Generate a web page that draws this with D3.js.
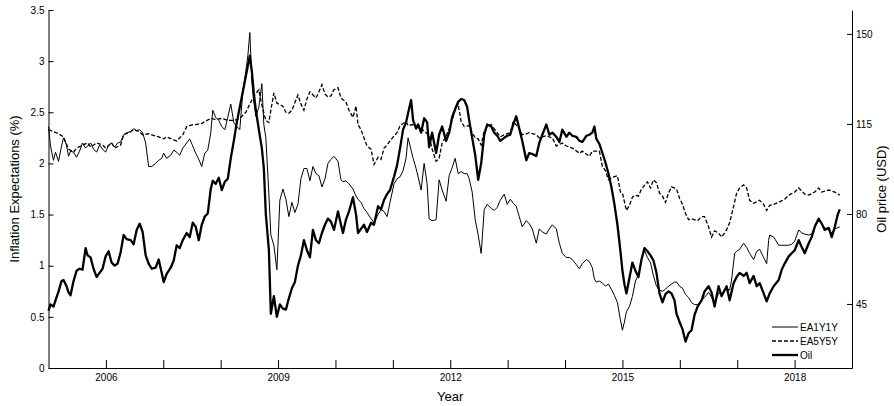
<!doctype html>
<html lang="en">
<head>
	<meta charset="UTF-8">
	<title>Inflation expectations and oil price</title>
	<style>
		body { margin: 0; background: #fff; }
		svg { display: block; font-family: "Liberation Sans", Arial, sans-serif; }
		.axis text { font-size: 10px; fill: #000; }
		.axis path, .axis line { stroke: #000; }
		.title { font-size: 13px; fill: #000; }
		.legend text { font-size: 10px; fill: #000; }
	</style>
</head>
<body>
	<script src="https://cdn.jsdelivr.net/npm/d3@7/dist/d3.min.js"></script>
	<script>
		// [decimal year, %]
		var ea1y1y = [[2005.000,2.36],[2005.035,2.17],[2005.087,2.03],[2005.122,2.11],[2005.175,2.02],[2005.227,2.17],[2005.262,2.25],[2005.314,2.18],[2005.349,2.07],[2005.384,2.12],[2005.436,2.11],[2005.489,2.06],[2005.541,2.12],[2005.593,2.20],[2005.646,2.15],[2005.681,2.17],[2005.733,2.20],[2005.785,2.14],[2005.838,2.11],[2005.890,2.18],[2005.942,2.14],[2005.995,2.11],[2006.047,2.18],[2006.099,2.20],[2006.152,2.16],[2006.204,2.20],[2006.257,2.21],[2006.309,2.28],[2006.361,2.30],[2006.431,2.31],[2006.483,2.34],[2006.536,2.32],[2006.588,2.33],[2006.640,2.30],[2006.693,2.20],[2006.745,1.97],[2006.798,1.97],[2006.867,2.00],[2006.920,2.03],[2006.972,2.05],[2007.007,2.10],[2007.059,2.05],[2007.129,2.08],[2007.182,2.13],[2007.234,2.11],[2007.286,2.08],[2007.339,2.15],[2007.408,2.20],[2007.461,2.24],[2007.513,2.17],[2007.565,2.10],[2007.618,2.04],[2007.670,1.97],[2007.723,2.10],[2007.775,2.13],[2007.827,2.30],[2007.862,2.52],[2007.914,2.45],[2007.967,2.42],[2008.019,2.36],[2008.072,2.33],[2008.124,2.45],[2008.176,2.58],[2008.229,2.40],[2008.281,2.36],[2008.333,2.33],[2008.386,2.70],[2008.438,2.90],[2008.473,3.05],[2008.508,3.28],[2008.543,2.80],[2008.578,2.60],[2008.613,2.46],[2008.665,2.55],[2008.717,2.78],[2008.752,2.38],[2008.787,2.25],[2008.840,1.70],[2008.874,1.30],[2008.927,1.20],[2008.979,0.96],[2009.031,1.64],[2009.084,1.75],[2009.136,1.65],[2009.188,1.48],[2009.241,1.62],[2009.293,1.52],[2009.346,1.60],[2009.398,1.85],[2009.450,1.95],[2009.503,1.95],[2009.555,1.83],[2009.607,1.97],[2009.660,1.90],[2009.712,1.88],[2009.764,1.77],[2009.817,1.85],[2009.869,2.00],[2009.921,2.04],[2009.974,2.07],[2010.044,2.02],[2010.096,1.84],[2010.131,1.82],[2010.183,1.83],[2010.236,1.80],[2010.305,1.75],[2010.358,1.68],[2010.393,1.65],[2010.445,1.62],[2010.497,1.56],[2010.550,1.52],[2010.620,1.46],[2010.672,1.42],[2010.742,1.50],[2010.794,1.55],[2010.846,1.53],[2010.899,1.48],[2010.951,1.62],[2011.021,1.80],[2011.073,1.85],[2011.126,1.87],[2011.178,1.93],[2011.230,2.05],[2011.265,2.25],[2011.318,2.13],[2011.353,2.05],[2011.405,1.95],[2011.440,1.87],[2011.492,1.74],[2011.545,2.00],[2011.597,1.80],[2011.632,1.46],[2011.684,1.44],[2011.754,1.45],[2011.806,1.84],[2011.859,1.74],[2011.928,1.63],[2011.981,1.88],[2012.033,1.96],[2012.086,2.05],[2012.138,1.90],[2012.190,1.92],[2012.243,1.90],[2012.295,1.90],[2012.330,1.85],[2012.382,1.72],[2012.435,1.45],[2012.487,1.30],[2012.539,1.12],[2012.592,1.55],[2012.644,1.60],[2012.714,1.56],[2012.766,1.54],[2012.819,1.57],[2012.871,1.64],[2012.941,1.70],[2012.993,1.60],[2013.045,1.65],[2013.098,1.61],[2013.150,1.58],[2013.202,1.48],[2013.255,1.38],[2013.325,1.44],[2013.377,1.41],[2013.429,1.36],[2013.499,1.22],[2013.551,1.36],[2013.604,1.33],[2013.674,1.31],[2013.726,1.36],[2013.778,1.40],[2013.848,1.36],[2013.901,1.22],[2013.953,1.12],[2014.023,1.08],[2014.075,1.08],[2014.127,1.06],[2014.197,1.01],[2014.250,0.97],[2014.302,1.02],[2014.372,1.06],[2014.424,1.04],[2014.476,0.98],[2014.511,0.87],[2014.546,0.84],[2014.599,0.85],[2014.651,0.83],[2014.703,0.80],[2014.756,0.82],[2014.808,0.77],[2014.860,0.71],[2014.913,0.64],[2014.965,0.47],[2015.000,0.37],[2015.035,0.45],[2015.070,0.55],[2015.122,0.60],[2015.174,0.70],[2015.227,0.85],[2015.279,0.91],[2015.332,1.06],[2015.384,1.15],[2015.436,1.08],[2015.489,1.03],[2015.541,0.90],[2015.593,0.80],[2015.646,0.76],[2015.698,0.75],[2015.750,0.77],[2015.803,0.80],[2015.855,0.82],[2015.908,0.84],[2015.942,0.84],[2015.995,0.80],[2016.047,0.78],[2016.099,0.72],[2016.152,0.69],[2016.204,0.64],[2016.257,0.62],[2016.309,0.62],[2016.379,0.66],[2016.431,0.69],[2016.501,0.74],[2016.553,0.69],[2016.606,0.63],[2016.675,0.73],[2016.728,0.73],[2016.815,0.78],[2016.868,0.76],[2016.902,0.86],[2016.955,1.12],[2016.990,1.14],[2017.042,1.16],[2017.112,1.22],[2017.164,1.18],[2017.217,1.12],[2017.286,1.06],[2017.339,1.14],[2017.391,1.16],[2017.461,1.08],[2017.513,1.02],[2017.548,1.25],[2017.565,1.30],[2017.635,1.28],[2017.723,1.20],[2017.775,1.20],[2017.827,1.20],[2017.897,1.20],[2017.949,1.21],[2018.002,1.24],[2018.071,1.35],[2018.124,1.32],[2018.176,1.31],[2018.246,1.30],[2018.298,1.31],[2018.351,1.38],[2018.420,1.44],[2018.473,1.41],[2018.525,1.37],[2018.595,1.35],[2018.647,1.32],[2018.700,1.36],[2018.787,1.38]];

		var ea5y5y = [[2005.000,2.33],[2005.087,2.31],[2005.175,2.29],[2005.262,2.26],[2005.349,2.14],[2005.436,2.11],[2005.489,2.15],[2005.593,2.18],[2005.681,2.20],[2005.733,2.16],[2005.838,2.20],[2005.942,2.18],[2005.995,2.15],[2006.099,2.20],[2006.152,2.15],[2006.257,2.18],[2006.309,2.28],[2006.431,2.31],[2006.483,2.33],[2006.588,2.31],[2006.640,2.28],[2006.745,2.29],[2006.798,2.28],[2006.920,2.26],[2007.007,2.24],[2007.059,2.26],[2007.182,2.23],[2007.234,2.22],[2007.339,2.28],[2007.408,2.36],[2007.513,2.38],[2007.565,2.38],[2007.670,2.39],[2007.723,2.41],[2007.827,2.44],[2007.914,2.43],[2008.019,2.44],[2008.124,2.42],[2008.229,2.42],[2008.333,2.44],[2008.438,2.50],[2008.508,2.58],[2008.578,2.66],[2008.665,2.72],[2008.717,2.57],[2008.787,2.42],[2008.840,2.40],[2008.874,2.52],[2008.927,2.69],[2008.979,2.59],[2009.084,2.56],[2009.136,2.50],[2009.188,2.49],[2009.241,2.52],[2009.346,2.67],[2009.398,2.58],[2009.450,2.52],[2009.503,2.63],[2009.555,2.70],[2009.660,2.64],[2009.712,2.70],[2009.764,2.77],[2009.817,2.68],[2009.869,2.65],[2009.921,2.66],[2009.974,2.72],[2010.044,2.74],[2010.096,2.64],[2010.183,2.60],[2010.236,2.52],[2010.305,2.45],[2010.358,2.56],[2010.393,2.38],[2010.445,2.33],[2010.497,2.25],[2010.550,2.17],[2010.620,2.14],[2010.672,1.99],[2010.742,2.06],[2010.794,2.04],[2010.846,2.15],[2010.899,2.18],[2010.951,2.22],[2011.021,2.27],[2011.073,2.30],[2011.126,2.37],[2011.178,2.39],[2011.230,2.41],[2011.265,2.37],[2011.353,2.38],[2011.440,2.35],[2011.545,2.32],[2011.632,2.27],[2011.684,2.14],[2011.754,2.02],[2011.806,2.05],[2011.859,2.20],[2011.928,2.27],[2011.981,2.34],[2012.033,2.42],[2012.086,2.53],[2012.138,2.58],[2012.190,2.41],[2012.243,2.36],[2012.330,2.37],[2012.382,2.30],[2012.435,2.25],[2012.487,2.24],[2012.539,2.18],[2012.592,2.32],[2012.644,2.36],[2012.714,2.38],[2012.766,2.34],[2012.871,2.26],[2012.941,2.28],[2013.045,2.30],[2013.098,2.41],[2013.202,2.34],[2013.255,2.28],[2013.325,2.29],[2013.377,2.30],[2013.499,2.28],[2013.551,2.25],[2013.604,2.26],[2013.674,2.27],[2013.778,2.25],[2013.848,2.17],[2013.953,2.20],[2014.023,2.17],[2014.127,2.15],[2014.250,2.10],[2014.302,2.12],[2014.424,2.07],[2014.476,2.12],[2014.599,2.12],[2014.651,1.97],[2014.703,1.93],[2014.756,1.84],[2014.808,1.86],[2014.913,1.88],[2014.965,1.72],[2015.000,1.71],[2015.070,1.54],[2015.122,1.59],[2015.174,1.67],[2015.227,1.69],[2015.279,1.68],[2015.332,1.75],[2015.436,1.82],[2015.489,1.76],[2015.541,1.84],[2015.593,1.81],[2015.646,1.71],[2015.698,1.68],[2015.750,1.62],[2015.803,1.71],[2015.855,1.77],[2015.942,1.75],[2015.995,1.66],[2016.047,1.60],[2016.099,1.51],[2016.152,1.45],[2016.204,1.46],[2016.309,1.44],[2016.379,1.48],[2016.431,1.48],[2016.501,1.38],[2016.553,1.28],[2016.606,1.34],[2016.675,1.32],[2016.728,1.28],[2016.815,1.35],[2016.868,1.42],[2016.937,1.58],[2016.990,1.71],[2017.042,1.76],[2017.112,1.79],[2017.164,1.76],[2017.217,1.64],[2017.286,1.61],[2017.391,1.64],[2017.461,1.60],[2017.513,1.54],[2017.565,1.59],[2017.635,1.60],[2017.723,1.62],[2017.827,1.65],[2017.897,1.69],[2018.002,1.72],[2018.071,1.76],[2018.176,1.70],[2018.246,1.69],[2018.351,1.72],[2018.420,1.76],[2018.473,1.72],[2018.595,1.74],[2018.700,1.72],[2018.787,1.69]];

		// [decimal year, USD]
		var oil = [[2005.000,42.4],[2005.035,44.8],[2005.087,44.0],[2005.122,46.4],[2005.175,49.9],[2005.227,53.9],[2005.262,54.3],[2005.314,51.9],[2005.349,49.5],[2005.384,48.4],[2005.436,53.9],[2005.489,57.9],[2005.541,58.7],[2005.593,58.3],[2005.646,66.7],[2005.681,63.9],[2005.733,63.1],[2005.785,58.7],[2005.838,55.5],[2005.890,57.1],[2005.942,58.7],[2005.995,63.5],[2006.047,65.5],[2006.099,61.1],[2006.152,59.9],[2006.204,60.7],[2006.257,65.1],[2006.309,71.8],[2006.361,70.2],[2006.431,69.8],[2006.483,68.2],[2006.536,73.8],[2006.588,76.2],[2006.640,73.0],[2006.693,63.9],[2006.745,60.7],[2006.798,58.7],[2006.867,59.1],[2006.920,62.3],[2006.972,57.1],[2007.007,53.5],[2007.059,56.7],[2007.129,59.1],[2007.182,61.9],[2007.234,67.8],[2007.286,66.7],[2007.339,69.8],[2007.408,72.6],[2007.461,71.0],[2007.513,76.6],[2007.565,75.0],[2007.618,69.8],[2007.670,75.8],[2007.723,79.0],[2007.775,80.2],[2007.827,89.7],[2007.862,92.9],[2007.914,91.7],[2007.967,94.1],[2008.019,89.3],[2008.072,92.5],[2008.124,93.7],[2008.176,101.7],[2008.229,108.4],[2008.281,115.6],[2008.333,121.6],[2008.386,127.5],[2008.438,133.5],[2008.473,137.5],[2008.508,141.5],[2008.543,135.5],[2008.578,126.7],[2008.613,120.4],[2008.665,112.8],[2008.717,105.6],[2008.752,97.7],[2008.787,79.8],[2008.840,65.9],[2008.874,41.2],[2008.927,48.0],[2008.979,40.0],[2009.031,44.8],[2009.084,43.2],[2009.136,42.8],[2009.188,47.2],[2009.241,51.1],[2009.293,53.5],[2009.346,59.9],[2009.398,63.9],[2009.450,69.8],[2009.503,65.9],[2009.555,63.1],[2009.607,73.8],[2009.660,69.8],[2009.712,68.6],[2009.764,72.6],[2009.817,75.8],[2009.869,78.2],[2009.921,77.0],[2009.974,73.8],[2010.044,81.0],[2010.096,75.8],[2010.131,72.6],[2010.183,77.8],[2010.236,81.0],[2010.305,86.5],[2010.358,79.8],[2010.393,72.6],[2010.445,74.2],[2010.497,75.8],[2010.550,73.0],[2010.620,76.6],[2010.672,75.8],[2010.742,83.0],[2010.794,81.8],[2010.846,85.4],[2010.899,87.7],[2010.951,89.3],[2011.021,94.5],[2011.073,98.9],[2011.126,105.6],[2011.178,112.8],[2011.230,115.6],[2011.265,119.2],[2011.318,124.3],[2011.353,116.4],[2011.405,113.2],[2011.440,114.8],[2011.492,111.6],[2011.545,117.2],[2011.597,115.6],[2011.632,106.0],[2011.684,111.6],[2011.754,103.7],[2011.806,110.8],[2011.859,114.0],[2011.928,108.4],[2011.981,111.6],[2012.033,117.6],[2012.086,120.8],[2012.138,123.6],[2012.190,124.7],[2012.243,124.3],[2012.295,121.6],[2012.330,116.4],[2012.382,109.6],[2012.435,102.9],[2012.487,93.3],[2012.539,99.7],[2012.592,110.8],[2012.644,114.8],[2012.714,114.0],[2012.766,111.6],[2012.819,110.4],[2012.871,108.4],[2012.941,109.6],[2012.993,110.4],[2013.045,110.8],[2013.098,114.8],[2013.150,118.0],[2013.202,113.2],[2013.255,108.4],[2013.325,100.9],[2013.377,103.7],[2013.429,103.3],[2013.499,102.5],[2013.551,107.6],[2013.604,110.8],[2013.674,114.8],[2013.726,110.8],[2013.778,111.6],[2013.848,110.0],[2013.901,108.0],[2013.953,112.8],[2014.023,110.0],[2014.075,111.6],[2014.127,110.4],[2014.197,110.0],[2014.250,108.4],[2014.302,108.0],[2014.372,110.4],[2014.424,110.8],[2014.476,111.6],[2014.511,114.0],[2014.546,109.2],[2014.599,107.2],[2014.651,103.7],[2014.703,100.1],[2014.756,95.7],[2014.808,90.5],[2014.860,83.8],[2014.913,75.8],[2014.965,65.5],[2015.000,57.9],[2015.035,52.7],[2015.070,49.1],[2015.122,55.1],[2015.174,61.1],[2015.227,57.9],[2015.279,55.5],[2015.332,62.3],[2015.384,66.7],[2015.436,65.5],[2015.489,63.9],[2015.541,61.9],[2015.593,57.1],[2015.646,49.1],[2015.698,45.6],[2015.750,48.8],[2015.803,49.9],[2015.855,49.1],[2015.908,46.4],[2015.942,41.2],[2015.995,38.0],[2016.047,35.2],[2016.099,30.4],[2016.152,33.6],[2016.204,34.8],[2016.257,40.8],[2016.309,44.0],[2016.379,46.4],[2016.431,49.9],[2016.501,51.9],[2016.553,49.5],[2016.606,44.0],[2016.675,51.9],[2016.728,48.0],[2016.815,51.9],[2016.868,46.4],[2016.937,53.1],[2016.990,55.5],[2017.042,57.1],[2017.112,55.9],[2017.164,57.1],[2017.217,53.1],[2017.286,55.9],[2017.339,51.9],[2017.391,53.1],[2017.461,49.1],[2017.513,46.0],[2017.565,49.1],[2017.635,51.9],[2017.723,54.3],[2017.775,58.3],[2017.827,60.7],[2017.897,63.5],[2017.949,64.7],[2018.002,65.9],[2018.071,69.8],[2018.124,67.1],[2018.176,64.7],[2018.246,68.6],[2018.298,71.0],[2018.351,75.0],[2018.420,78.2],[2018.473,76.2],[2018.525,73.8],[2018.595,74.6],[2018.647,71.0],[2018.700,75.0],[2018.752,79.8],[2018.787,81.8]];

		var yearTicks = d3.range(2006, 2019),
			yearLabels = [2006, 2009, 2012, 2015, 2018],
			leftTicks = [0, 0.5, 1, 1.5, 2, 2.5, 3, 3.5],
			rightTicks = [45, 80, 115, 150];

		var w = 894,
			h = 406,
			plotLeft = 48.5,
			plotRight = 852,
			plotTop = 10,
			plotBottom = 368;

		var x = d3.scaleLinear().domain([2005, 2019]).range([plotLeft, plotRight]);
		var yL = d3.scaleLinear().domain([0, 3.5]).range([plotBottom, plotTop]);
		var yR = d3.scaleLinear().domain([20.1, 159.3]).range([plotBottom, plotTop]);

		var svg = d3.select('body')
			.append('svg')
			.attr('width', w)
			.attr('height', h);

		svg.append('g')
			.attr('class', 'axis')
			.attr('transform', 'translate(0,' + plotBottom + ')')
			.call(d3.axisBottom(x)
				.tickValues(yearTicks)
				.tickSizeInner(-8)
				.tickSizeOuter(0)
				.tickPadding(6)
				.tickFormat(function(d) { return yearLabels.indexOf(d) > -1 ? d : ''; }));

		svg.append('g')
			.attr('class', 'axis')
			.attr('transform', 'translate(' + plotLeft + ',0)')
			.call(d3.axisLeft(yL)
				.tickValues(leftTicks)
				.tickSizeInner(-5)
				.tickSizeOuter(0)
				.tickPadding(4)
				.tickFormat(d3.format('')));

		svg.append('g')
			.attr('class', 'axis')
			.attr('transform', 'translate(' + plotRight + ',0)')
			.call(d3.axisRight(yR)
				.tickValues(rightTicks)
				.tickSizeInner(-5)
				.tickSizeOuter(0)
				.tickPadding(4));

		var lineL = d3.line()
			.x(function(d) { return x(d[0]); })
			.y(function(d) { return yL(d[1]); });

		var lineR = d3.line()
			.x(function(d) { return x(d[0]); })
			.y(function(d) { return yR(d[1]); });

		svg.append('path')
			.attr('d', lineR(oil))
			.attr('fill', 'none')
			.attr('stroke', '#000')
			.attr('stroke-width', 2.3)
			.attr('stroke-linejoin', 'round');

		svg.append('path')
			.attr('d', lineL(ea5y5y))
			.attr('fill', 'none')
			.attr('stroke', '#000')
			.attr('stroke-width', 1.3)
			.attr('stroke-dasharray', '4,2');

		svg.append('path')
			.attr('d', lineL(ea1y1y))
			.attr('fill', 'none')
			.attr('stroke', '#000')
			.attr('stroke-width', 1);

		// titles
		svg.append('text')
			.attr('class', 'title')
			.attr('x', (plotLeft + plotRight) / 2)
			.attr('y', 401)
			.attr('text-anchor', 'middle')
			.text('Year');

		svg.append('text')
			.attr('class', 'title')
			.attr('transform', 'translate(19,189) rotate(-90)')
			.attr('text-anchor', 'middle')
			.text('Inflation Expectations (%)');

		svg.append('text')
			.attr('class', 'title')
			.attr('transform', 'translate(886,189) rotate(-90)')
			.attr('text-anchor', 'middle')
			.text('Oil price (USD)');

		// legend
		var legendItems = [
			{name: 'EA1Y1Y', width: 1, dash: null},
			{name: 'EA5Y5Y', width: 1.3, dash: '4,2'},
			{name: 'Oil', width: 2.3, dash: null}
		];

		var legend = svg.append('g')
			.attr('class', 'legend')
			.attr('transform', 'translate(772,327)');

		var items = legend.selectAll('g')
			.data(legendItems)
			.enter()
			.append('g')
			.attr('transform', function(d, i) { return 'translate(0,' + i * 14 + ')'; });

		items.append('line')
			.attr('x1', 0)
			.attr('x2', 26)
			.attr('stroke', '#000')
			.attr('stroke-width', function(d) { return d.width; })
			.attr('stroke-dasharray', function(d) { return d.dash; });

		items.append('text')
			.attr('x', 28)
			.attr('dy', '0.35em')
			.text(function(d) { return d.name; });
	</script>
</body>
</html>
